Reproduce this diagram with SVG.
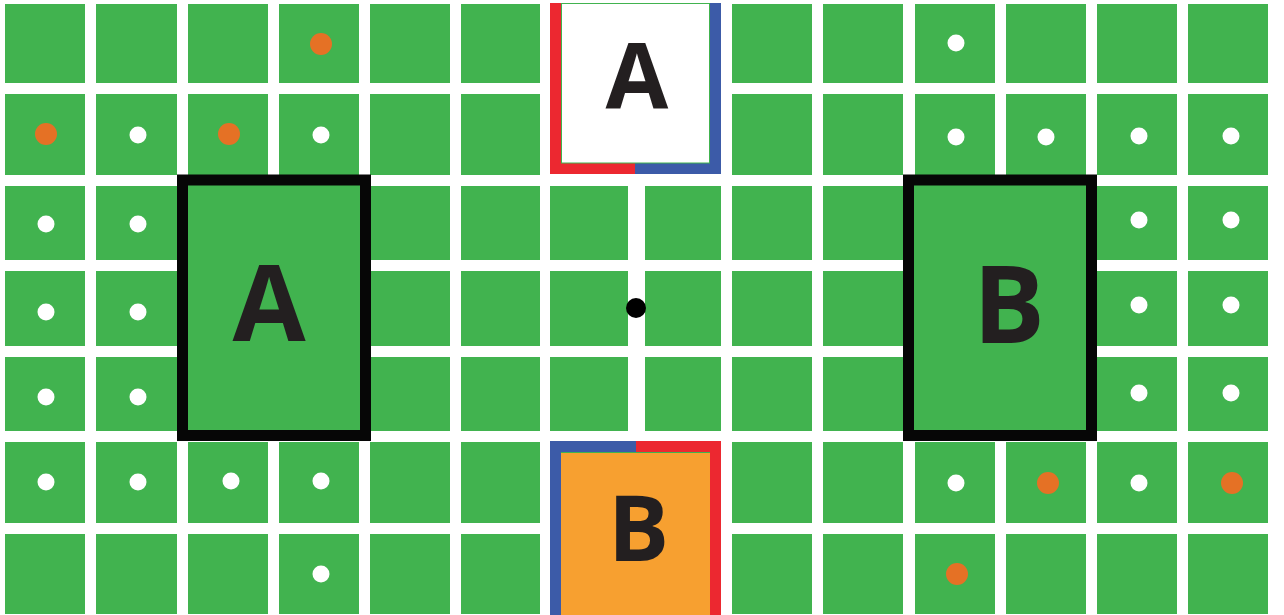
<svg xmlns="http://www.w3.org/2000/svg" width="1284" height="615" viewBox="0 0 1284 615">
<style>
.c{fill:#41B34F}
.w{fill:#FFFFFF}
.o{fill:#E57125}
.lbl{font-family:"Open Sans","Liberation Sans",sans-serif;font-weight:700;fill:#231F20;text-anchor:middle}
</style>
<defs>
<circle id="wd" r="8.5" fill="#FFFFFF"/>
<circle id="od" r="11" fill="#E57125"/>
</defs>
<rect x="0" y="0" width="1284" height="615" fill="#FFFFFF"/>
<g id="grid">
<!-- left columns -->
<g id="left-cells">
<rect class="c" x="5" y="4" width="80" height="79"/><rect class="c" x="96" y="4" width="81" height="79"/><rect class="c" x="188" y="4" width="80" height="79"/><rect class="c" x="279" y="4" width="80" height="79"/><rect class="c" x="370" y="4" width="80" height="79"/><rect class="c" x="461" y="4" width="79" height="79"/>
<rect class="c" x="5" y="94" width="80" height="81"/><rect class="c" x="96" y="94" width="81" height="81"/><rect class="c" x="188" y="94" width="80" height="81"/><rect class="c" x="279" y="94" width="80" height="81"/><rect class="c" x="370" y="94" width="80" height="81"/><rect class="c" x="461" y="94" width="79" height="81"/>
<rect class="c" x="5" y="186" width="80" height="74"/><rect class="c" x="96" y="186" width="81" height="74"/><rect class="c" x="188" y="186" width="80" height="74"/><rect class="c" x="279" y="186" width="80" height="74"/><rect class="c" x="370" y="186" width="80" height="74"/><rect class="c" x="461" y="186" width="79" height="74"/>
<rect class="c" x="5" y="271" width="80" height="75"/><rect class="c" x="96" y="271" width="81" height="75"/><rect class="c" x="188" y="271" width="80" height="75"/><rect class="c" x="279" y="271" width="80" height="75"/><rect class="c" x="370" y="271" width="80" height="75"/><rect class="c" x="461" y="271" width="79" height="75"/>
<rect class="c" x="5" y="357" width="80" height="74"/><rect class="c" x="96" y="357" width="81" height="74"/><rect class="c" x="188" y="357" width="80" height="74"/><rect class="c" x="279" y="357" width="80" height="74"/><rect class="c" x="370" y="357" width="80" height="74"/><rect class="c" x="461" y="357" width="79" height="74"/>
<rect class="c" x="5" y="442" width="80" height="81"/><rect class="c" x="96" y="442" width="81" height="81"/><rect class="c" x="188" y="442" width="80" height="81"/><rect class="c" x="279" y="442" width="80" height="81"/><rect class="c" x="370" y="442" width="80" height="81"/><rect class="c" x="461" y="442" width="79" height="81"/>
<rect class="c" x="5" y="534" width="80" height="80"/><rect class="c" x="96" y="534" width="81" height="80"/><rect class="c" x="188" y="534" width="80" height="80"/><rect class="c" x="279" y="534" width="80" height="80"/><rect class="c" x="370" y="534" width="80" height="80"/><rect class="c" x="461" y="534" width="79" height="80"/>
</g>
<g id="mid-cells">
<rect class="c" x="550" y="186" width="78" height="74"/><rect class="c" x="645" y="186" width="76" height="74"/>
<rect class="c" x="550" y="271" width="78" height="75"/><rect class="c" x="645" y="271" width="76" height="75"/>
<rect class="c" x="550" y="357" width="78" height="74"/><rect class="c" x="645" y="357" width="76" height="74"/>
</g>
<g id="right-cells">
<rect class="c" x="732" y="4" width="80" height="79"/><rect class="c" x="823" y="4" width="80" height="79"/><rect class="c" x="915" y="4" width="80" height="79"/><rect class="c" x="1006" y="4" width="80" height="79"/><rect class="c" x="1097" y="4" width="80" height="79"/><rect class="c" x="1188" y="4" width="80" height="79"/>
<rect class="c" x="732" y="94" width="80" height="81"/><rect class="c" x="823" y="94" width="80" height="81"/><rect class="c" x="915" y="94" width="80" height="81"/><rect class="c" x="1006" y="94" width="80" height="81"/><rect class="c" x="1097" y="94" width="80" height="81"/><rect class="c" x="1188" y="94" width="80" height="81"/>
<rect class="c" x="732" y="186" width="80" height="74"/><rect class="c" x="823" y="186" width="80" height="74"/><rect class="c" x="915" y="186" width="80" height="74"/><rect class="c" x="1006" y="186" width="80" height="74"/><rect class="c" x="1097" y="186" width="80" height="74"/><rect class="c" x="1188" y="186" width="80" height="74"/>
<rect class="c" x="732" y="271" width="80" height="75"/><rect class="c" x="823" y="271" width="80" height="75"/><rect class="c" x="915" y="271" width="80" height="75"/><rect class="c" x="1006" y="271" width="80" height="75"/><rect class="c" x="1097" y="271" width="80" height="75"/><rect class="c" x="1188" y="271" width="80" height="75"/>
<rect class="c" x="732" y="357" width="80" height="74"/><rect class="c" x="823" y="357" width="80" height="74"/><rect class="c" x="915" y="357" width="80" height="74"/><rect class="c" x="1006" y="357" width="80" height="74"/><rect class="c" x="1097" y="357" width="80" height="74"/><rect class="c" x="1188" y="357" width="80" height="74"/>
<rect class="c" x="732" y="442" width="80" height="81"/><rect class="c" x="823" y="442" width="80" height="81"/><rect class="c" x="915" y="442" width="80" height="81"/><rect class="c" x="1006" y="442" width="80" height="81"/><rect class="c" x="1097" y="442" width="80" height="81"/><rect class="c" x="1188" y="442" width="80" height="81"/>
<rect class="c" x="732" y="534" width="80" height="80"/><rect class="c" x="823" y="534" width="80" height="80"/><rect class="c" x="915" y="534" width="80" height="80"/><rect class="c" x="1006" y="534" width="80" height="80"/><rect class="c" x="1097" y="534" width="80" height="80"/><rect class="c" x="1188" y="534" width="80" height="80"/>
</g>
</g>
<g id="dots">
<use href="#od" x="321" y="44"/><use href="#wd" x="956" y="43"/>
<use href="#od" x="46" y="134"/><use href="#wd" x="138" y="135"/><use href="#od" x="229" y="134"/><use href="#wd" x="321" y="135"/>
<use href="#wd" x="956" y="137"/><use href="#wd" x="1046" y="137"/><use href="#wd" x="1139" y="136"/><use href="#wd" x="1231" y="136"/>
<use href="#wd" x="46" y="224"/><use href="#wd" x="138" y="224"/><use href="#wd" x="1139" y="220"/><use href="#wd" x="1231" y="220"/>
<use href="#wd" x="46" y="312"/><use href="#wd" x="138" y="312"/><use href="#wd" x="1139" y="305"/><use href="#wd" x="1231" y="305"/>
<use href="#wd" x="46" y="397"/><use href="#wd" x="138" y="397"/><use href="#wd" x="1139" y="393"/><use href="#wd" x="1231" y="393"/>
<use href="#wd" x="46" y="482"/><use href="#wd" x="138" y="482"/><use href="#wd" x="231" y="481"/><use href="#wd" x="321" y="481"/>
<use href="#wd" x="956" y="483"/><use href="#od" x="1048" y="483"/><use href="#wd" x="1139" y="483"/><use href="#od" x="1232" y="483"/>
<use href="#wd" x="321" y="574"/><use href="#od" x="957" y="574"/>
<circle cx="636" cy="308" r="10" fill="#000000"/>
</g>
<g id="zone-A">
<rect x="182.5" y="180" width="183" height="255.5" fill="#41B34F" stroke="#060606" stroke-width="11"/>
<text class="lbl" x="269" y="341" font-size="106">A</text>
</g>
<g id="zone-B">
<rect x="908.5" y="180" width="183" height="255.5" fill="#41B34F" stroke="#060606" stroke-width="11"/>
<text class="lbl" x="1009" y="343" font-size="107">B</text>
</g>
<g id="box-A">
<rect x="550" y="3" width="171" height="171" fill="#3C5BA8"/>
<rect x="550" y="3" width="11" height="171" fill="#EC2830"/>
<rect x="550" y="163" width="85" height="11" fill="#EC2830"/>
<rect x="561.5" y="3.5" width="148" height="159.5" fill="#FFFFFF" stroke="#41B34F" stroke-width="1"/>
<text class="lbl" x="637" y="109" font-size="91">A</text>
</g>
<g id="box-B">
<rect x="550" y="441" width="171" height="174" fill="#EC2830"/>
<rect x="550" y="441" width="86" height="11" fill="#3C5BA8"/>
<rect x="550" y="441" width="11" height="174" fill="#3C5BA8"/>
<rect x="561" y="452" width="149" height="163" fill="#F7A030"/>
<line x1="561" y1="452.5" x2="710" y2="452.5" stroke="#41B34F" stroke-width="1"/>
<text class="lbl" x="638.5" y="561" font-size="91">B</text>
</g>
</svg>
